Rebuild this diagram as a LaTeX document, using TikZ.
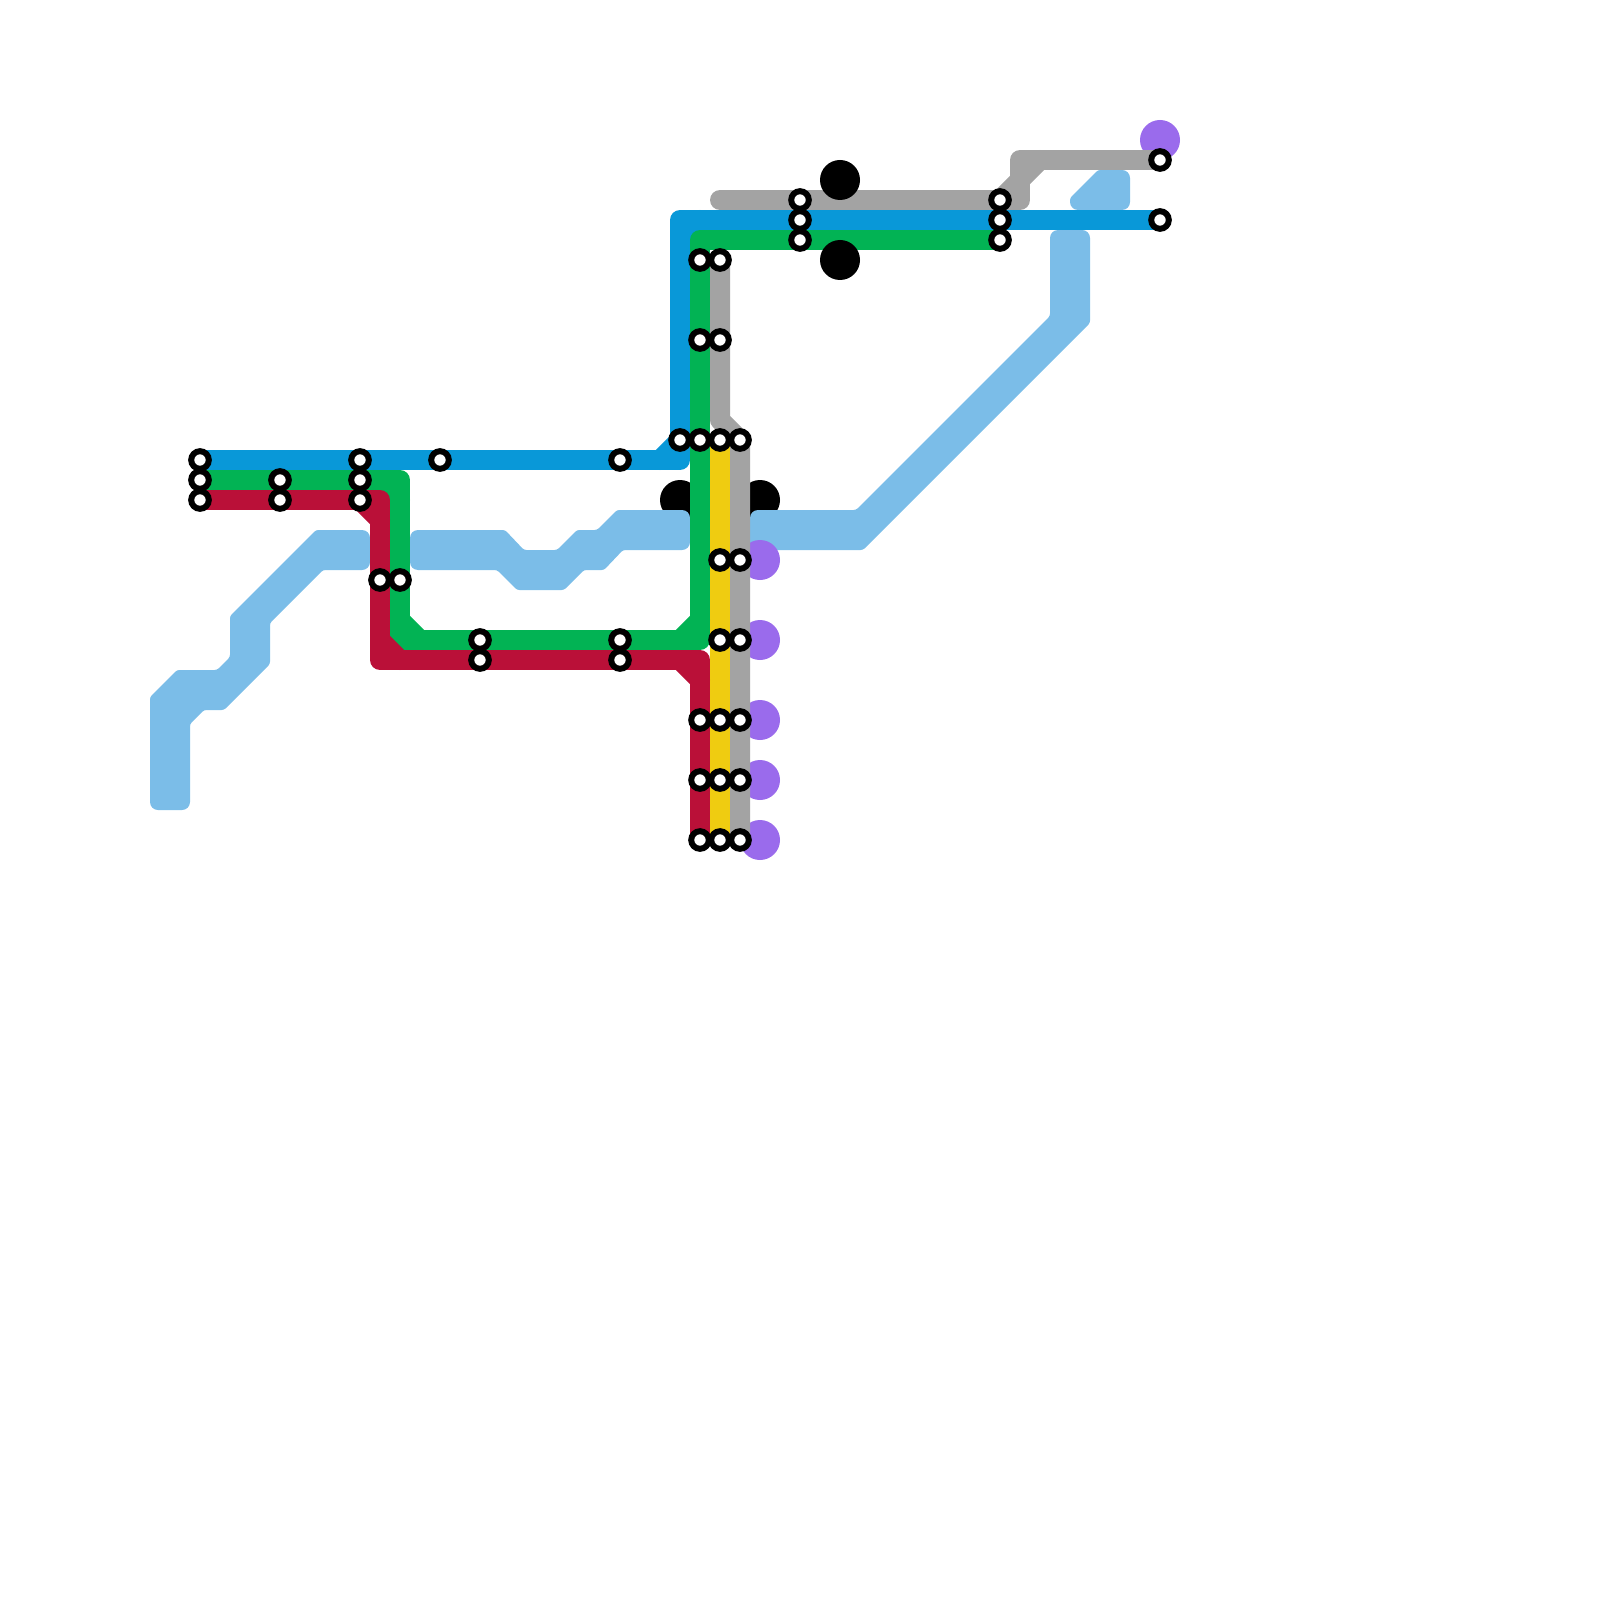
\documentclass[tikz,border=0pt]{standalone}
\usetikzlibrary{backgrounds}
\definecolor{lineblue}{HTML}{0998D8}
\definecolor{linegreen}{HTML}{02B354}
\definecolor{linered}{HTML}{BA1038}
\definecolor{lineyellow}{HTML}{EFCC11}
\definecolor{linegray}{HTML}{A3A3A3}
\definecolor{linesky}{HTML}{7BBDE8}
\definecolor{discpurple}{HTML}{9A6BEC}
\tikzset{
  ln/.style={line width=5mm, line cap=round, line join=round},
  sky/.style={fill=linesky},
  rb/.style={rounded corners=2mm},
  rs/.style={rounded corners=.6mm},
  stn/.style={circle, draw=black, fill=white, line width=1.5mm, minimum size=4.4mm, inner sep=0pt},
  disc/.style={circle, minimum size=10mm, inner sep=0pt}}
\begin{document}
\begin{tikzpicture}[x=0.25mm, y=-0.25mm]
  \useasboundingbox (0,0) rectangle (1600,1600);
  \foreach \x/\y in {200/460, 200/480, 200/500, 280/480, 280/500, 360/460, 360/480, 360/500, 440/460, 620/460,
    380/580, 400/580, 480/640, 480/660, 620/640, 620/660, 680/440, 700/440, 720/440, 740/440,
    720/560, 740/560, 720/640, 740/640, 700/720, 720/720, 740/720, 700/780, 720/780, 740/780,
    700/840, 720/840, 740/840, 700/260, 720/260, 700/340, 720/340,
    800/200, 800/220, 800/240, 1000/200, 1000/220, 1000/240, 1160/160, 1160/220} {
    \node[stn] (s\x-\y) at (\x,\y) {};
  }
  \begin{scope}[on background layer]
    \foreach \x/\y in {680/500, 760/500} {\node[disc, fill=black] (b\x-\y) at (\x,\y) {};}
    % wide sky blue pieces
    \fill[sky] (170,810) [rb] -- (190,810) [rs] -- (190,724) -- (204,710) -- (224,710) -- (270,664) -- (270,623) -- (323,570)
      [rb] -- (370,570) -- (370,530) [rs] -- (316,530) -- (230,616) -- (230,657) -- (217,670) -- (177,670) -- (150,697) [rb] -- (150,810) -- cycle;
    \fill[sky] (410,550) [rb] -- (410,530) [rs] -- (505,530) -- (524,550) -- (557,550) -- (577,530) -- (597,530) -- (617,510) [rb] -- (690,510)
      -- (690,550) [rs] -- (623,550) -- (604,570) -- (584,570) -- (564,590) -- (517,590) -- (497,570) [rb] -- (410,570) -- cycle;
    \fill[sky] (750,530) [rb] -- (750,510) [rs] -- (856,510) -- (1050,316) [rb] -- (1050,230) -- (1090,230) [rs] -- (1090,323) -- (863,550) [rb] -- (750,550) -- cycle;
    \fill[sky] (1100,210) [rb] -- (1070,210) [rs] -- (1070,198) -- (1098,170) [rb] -- (1130,170) -- (1130,210) -- cycle;
    \foreach \x/\y in {760/560, 760/640, 760/720, 760/780, 760/840, 1160/140} {\node[disc, fill=discpurple] (p\x-\y) at (\x,\y) {};}
    % lines
    \coordinate (grayend) at (720,200);
    \draw[ln, linegray] (grayend) -- (1020,200) -- (1020,160) -- (s1160-160.center);
    \draw[ln, linegray] (1000,200) -- (1040,160);
    \draw[ln, linegray] (s720-260.center) -- (720,420) -- (740,440) -- (s740-840.center);
    \draw[ln, lineyellow] (s720-440.center) -- (s720-840.center);
    \draw[ln, lineblue] (s200-460.center) -- (680,460) -- (680,220) -- (s1160-220.center);
    \draw[ln, lineblue] (660,460) -- (680,440);
    \draw[ln, lineblue] (680,240) -- (700,220);
    \draw[ln, linegreen] (s200-480.center) -- (400,480) -- (400,640) -- (700,640) -- (700,240) -- (s1000-240.center);
    \draw[ln, linegreen] (380,480) -- (400,500);
    \draw[ln, linegreen] (400,620) -- (420,640);
    \draw[ln, linegreen] (680,640) -- (700,620);
    \draw[ln, linered] (s200-500.center) -- (380,500) -- (380,660) -- (700,660) -- (s700-840.center);
    \draw[ln, linered] (360,500) -- (380,520);
    \draw[ln, linered] (380,640) -- (400,660);
    \draw[ln, linered] (680,660) -- (700,680);
    \foreach \x/\y in {840/180, 840/260} {\node[disc, fill=black] (b\x-\y) at (\x,\y) {};}
  \end{scope}
\end{tikzpicture}
\end{document}
